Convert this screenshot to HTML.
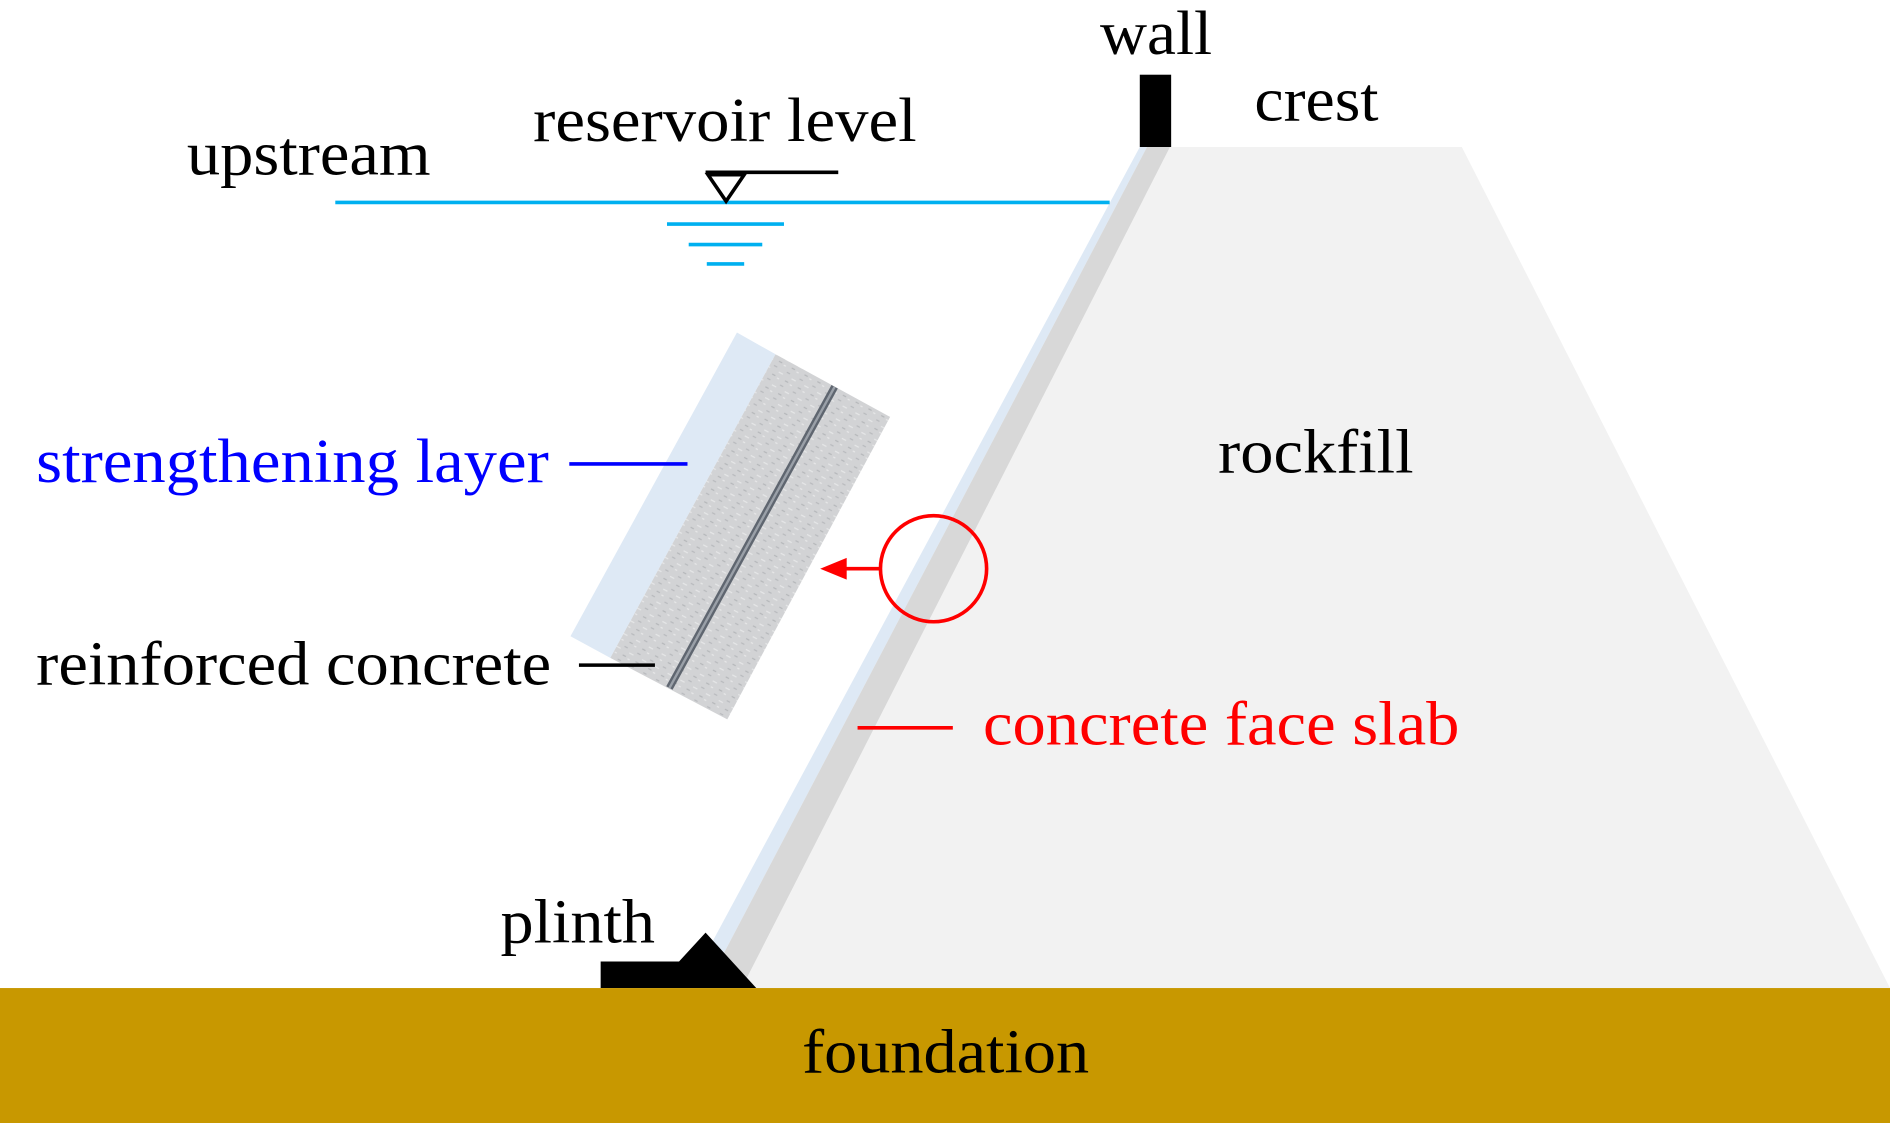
<!DOCTYPE html>
<html><head><meta charset="utf-8"><style>
html,body{margin:0;padding:0;background:#fff;}
svg{display:block;}
text{font-family:"Liberation Serif",serif;}
</style></head><body>
<svg width="1890" height="1123" viewBox="0 0 1567 932" preserveAspectRatio="none" xmlns="http://www.w3.org/2000/svg">
<defs>
<pattern id="spk" width="12" height="12" patternUnits="userSpaceOnUse" patternTransform="rotate(28)">
<rect width="12" height="12" fill="#d2d3d5"/>
<rect x="1" y="2" width="3" height="1" fill="#b8babd"/>
<rect x="7" y="5" width="4" height="1" fill="#e6e7e8"/>
<rect x="3" y="9" width="3" height="1" fill="#b5b7ba"/>
<rect x="8" y="10" width="2" height="1" fill="#e8e8e9"/>
</pattern>
</defs>
<rect x="0" y="820" width="1567" height="112" fill="#C89800"/>
<polygon points="945,122 951,122 585,820 570,820" fill="#DEE9F5"/>
<polygon points="951,122 972,122 615,820 585,820" fill="#D8D8D8"/>
<polygon points="970,122 1212,122 1567,820 615,820" fill="#F2F2F2"/>
<rect x="945" y="62" width="26" height="60" fill="#000"/>
<polygon points="498,798 563,798 585,774 627,820 498,820" fill="#000"/>
<line x1="278" y1="168" x2="920" y2="168" stroke="#00B0F0" stroke-width="3"/>
<line x1="585" y1="143" x2="695" y2="143" stroke="#000" stroke-width="3"/>
<polygon points="587,145 617,145 602,167" fill="none" stroke="#000" stroke-width="3"/>
<line x1="553" y1="186" x2="650" y2="186" stroke="#00B0F0" stroke-width="3"/>
<line x1="571" y1="203" x2="632" y2="203" stroke="#00B0F0" stroke-width="3"/>
<line x1="586" y1="219" x2="617" y2="219" stroke="#00B0F0" stroke-width="3"/>
<polygon points="611,276 643,294 506,546 473,528" fill="#DEE9F5"/>
<polygon points="643,294 738,346 603,597 506,546" fill="url(#spk)"/>
<line x1="692" y1="321" x2="555" y2="571" stroke="#5F6670" stroke-width="6"/>
<line x1="692" y1="321" x2="555" y2="571" stroke="#9AA0A8" stroke-width="2"/>
<circle cx="774" cy="472" r="44" fill="none" stroke="#FF0000" stroke-width="3"/>
<line x1="730" y1="472" x2="696" y2="472" stroke="#FF0000" stroke-width="3"/>
<polygon points="680,472 702,463 702,481" fill="#FF0000"/>
<line x1="472" y1="385" x2="570" y2="385" stroke="#0000FF" stroke-width="3"/>
<line x1="480" y1="552" x2="543" y2="552" stroke="#000" stroke-width="3"/>
<line x1="711" y1="604" x2="790" y2="604" stroke="#FF0000" stroke-width="3"/>
<g font-size="52">
<text x="912" y="45" textLength="93" lengthAdjust="spacingAndGlyphs">wall</text>
<text x="1040" y="100" textLength="103" lengthAdjust="spacingAndGlyphs">crest</text>
<text x="442" y="117" textLength="318" lengthAdjust="spacingAndGlyphs">reservoir level</text>
<text x="155" y="145" textLength="202" lengthAdjust="spacingAndGlyphs">upstream</text>
<text x="1010" y="392" textLength="162" lengthAdjust="spacingAndGlyphs">rockfill</text>
<text x="30" y="400" fill="#0000FF" textLength="425" lengthAdjust="spacingAndGlyphs">strengthening layer</text>
<text x="30" y="568" textLength="427" lengthAdjust="spacingAndGlyphs">reinforced concrete</text>
<text x="815" y="618" fill="#FF0000" textLength="395" lengthAdjust="spacingAndGlyphs">concrete face slab</text>
<text x="415" y="782" textLength="128" lengthAdjust="spacingAndGlyphs">plinth</text>
<text x="665" y="890" textLength="238" lengthAdjust="spacingAndGlyphs">foundation</text>
</g>
</svg>
</body></html>
